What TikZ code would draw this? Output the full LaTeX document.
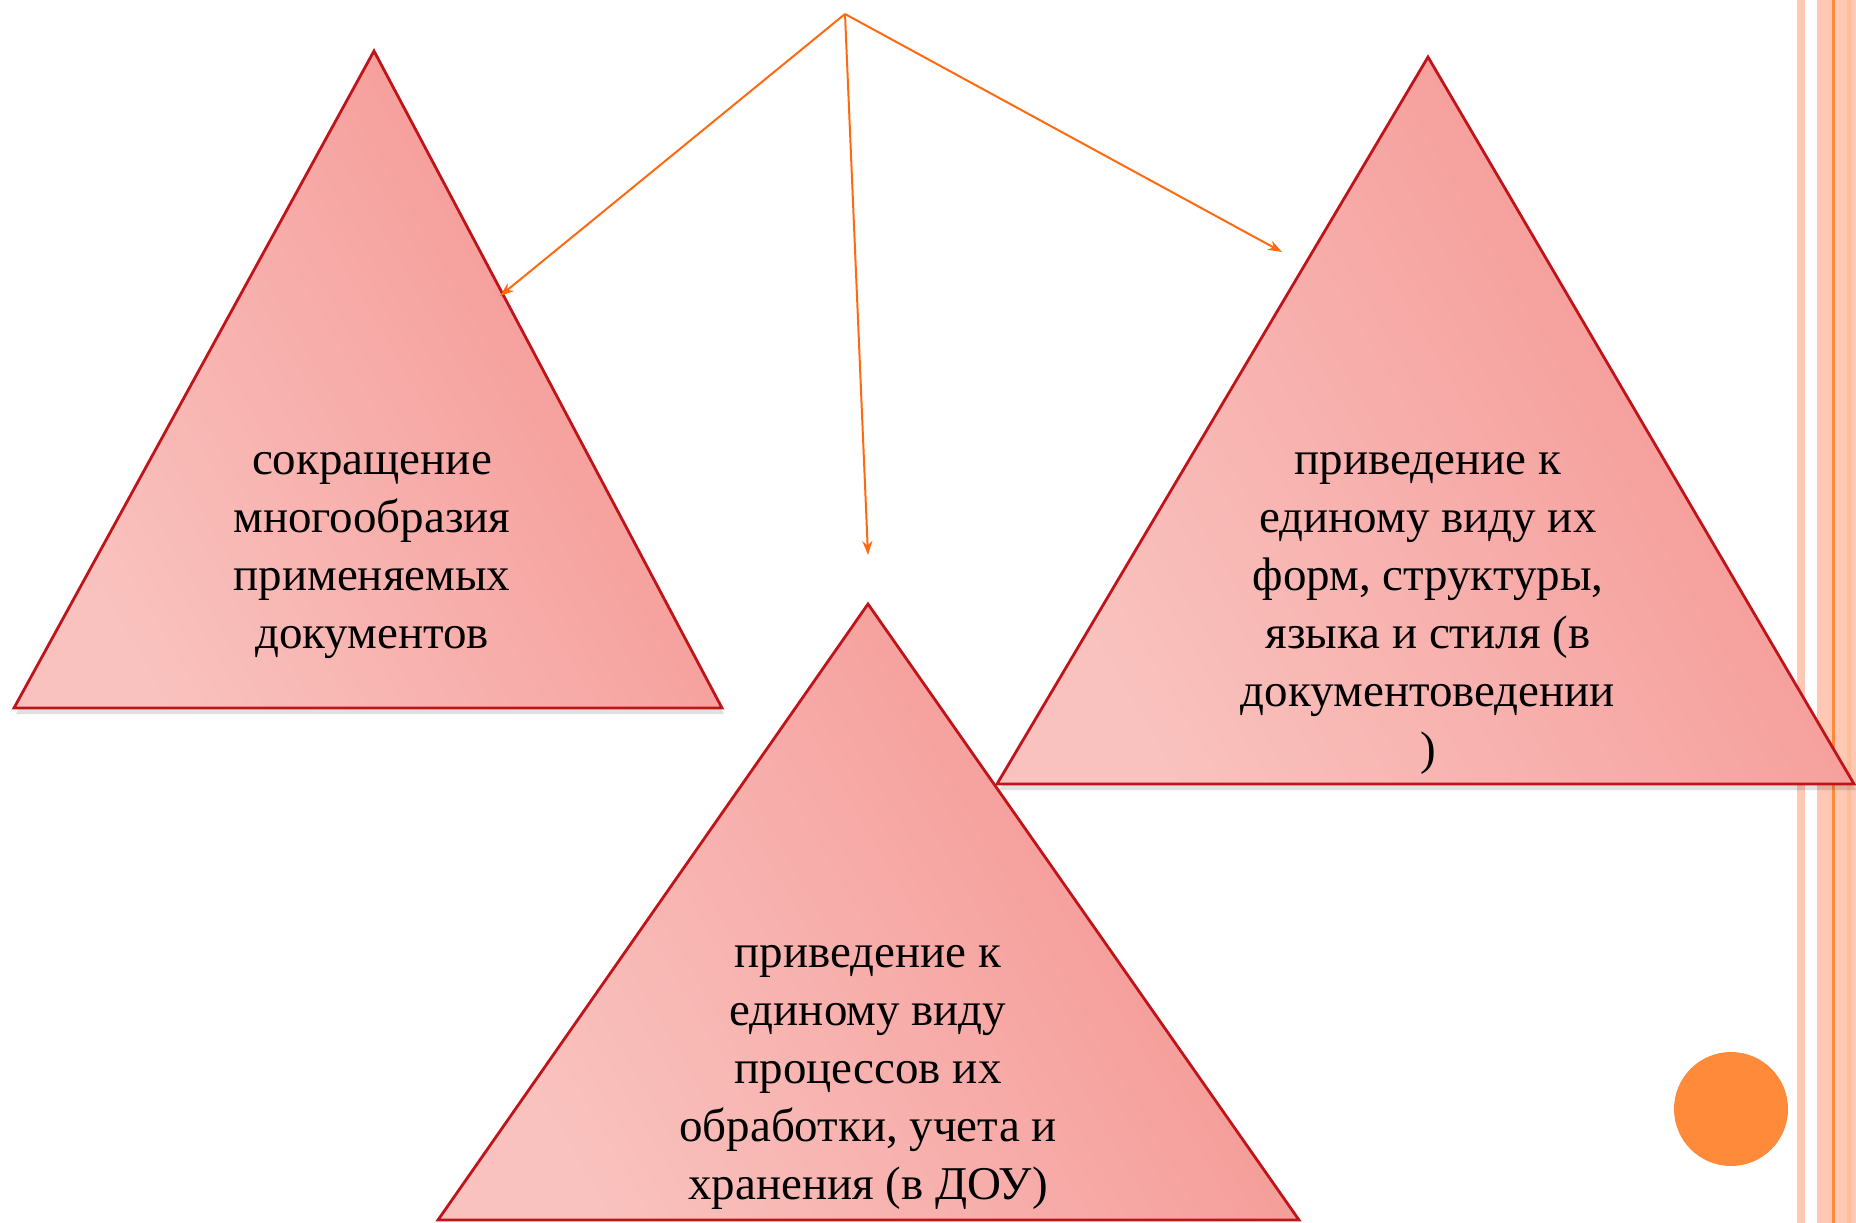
\documentclass[tikz,border=0pt]{standalone}
\usepackage{fontspec}
\setmainfont{Liberation Serif}
\usetikzlibrary{arrows.meta}

\definecolor{triLight}{HTML}{F9C2BE}
\definecolor{triMid}{HTML}{F7ACA9}
\definecolor{triDark}{HTML}{F4948F}
\definecolor{triEdge}{HTML}{C0141A}
\definecolor{arrOrange}{HTML}{FF6A10}
\definecolor{peach}{HTML}{FFC8B4}
\definecolor{dotOrange}{HTML}{FF8A3A}

\tikzset{
  tri/.style={draw=triEdge, line width=2.8pt, line join=miter,
    left color=triLight, right color=triDark, middle color=triMid, shading angle=120},
  trishadow/.style={fill=black, fill opacity=0.12},
  label/.style={align=center, font=\fontsize{47}{58}\selectfont, text=black},
  link/.style={->, draw=arrOrange, line width=2pt}
}

\begin{document}
\begin{tikzpicture}[x=1pt, y=-1pt, >={Stealth[length=14pt,width=10pt]}]
      \useasboundingbox (0,0) rectangle (1856,1223);
      % stripes on the right
      \fill[peach] (1797,0) rectangle (1805,1223);
      \fill[peach] (1817,0) rectangle (1856,1223);
      \fill[dotOrange] (1832,0) rectangle (1834.5,1223);
      \fill[peach!85!orange] (1847,0) rectangle (1851,1223);
      \fill[dotOrange] (1731,1109) circle [radius=57];

      % triangles
      \fill[trishadow] (16,714) -- (376,57) -- (724,714) -- cycle;
      \fill[trishadow] (999,790) -- (1430,63) -- (1856,790) -- cycle;
      \path[tri] (14,708) -- (374,51) -- (722,708) -- cycle;
      \path[tri] (997,784) -- (1428,57) -- (1854,784) -- cycle;
      \path[tri] (438,1220) -- (868,604) -- (1299,1220) -- cycle;

      % texts
      \node[label] (reduce) at (372,555) {сокращение\\многообразия\\применяемых\\документов};
      \node[label] (forms) at (1428,613) {приведение к\\единому виду их\\форм, структуры,\\языка и стиля (в\\документоведении\\)};
      \node[label] (process) at (868,1077) {приведение к\\единому виду\\процессов их\\обработки, учета и\\хранения (в ДОУ)};

      % arrows from the top point
      \coordinate (src) at (845,14);
      \coordinate (toLeft) at (500,296);
      \coordinate (toMid) at (868,555);
      \coordinate (toRight) at (1282,252);
      \draw[link] (src) -- (toLeft);
      \draw[link] (src) -- (toMid);
      \draw[link] (src) -- (toRight);
\end{tikzpicture}
\end{document}
